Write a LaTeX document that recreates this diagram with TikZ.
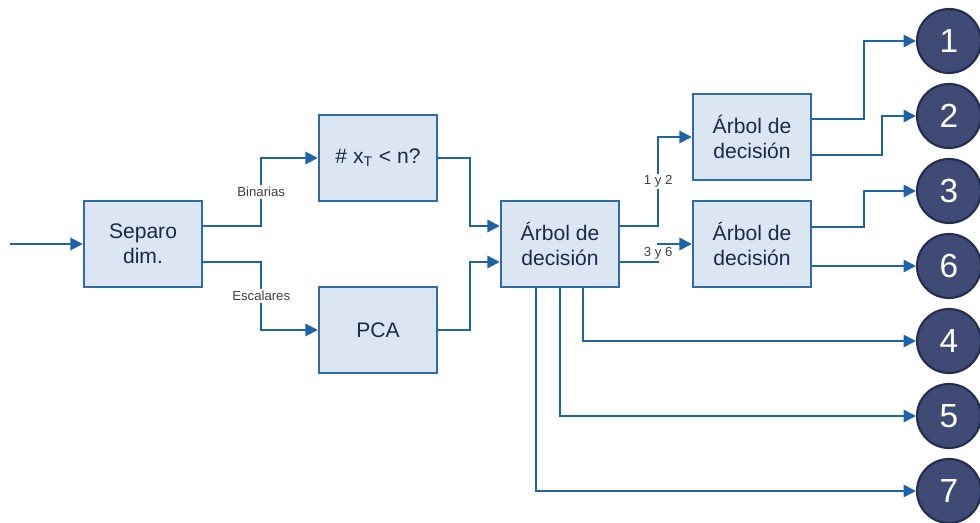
\documentclass[tikz,border=0pt]{standalone}
\usepackage{fontspec}
\setmainfont{Liberation Sans}
\usetikzlibrary{arrows.meta}

\definecolor{boxfill}{HTML}{DCE6F2}
\definecolor{boxline}{HTML}{2F6BA8}
\definecolor{wire}{HTML}{1F62A8}
\definecolor{ballfill}{HTML}{3F4B75}
\definecolor{ballline}{HTML}{232D4F}
\definecolor{ink}{HTML}{1B2A48}

\tikzset{
  block/.style={draw=boxline, line width=1.4pt, fill=boxfill, minimum width=2.36cm,
    minimum height=1.72cm, align=center, text=ink, inner sep=0pt,
    font=\fontsize{12}{14}\selectfont},
  ball/.style={circle, draw=ballline, line width=1.2pt, fill=ballfill, minimum size=1.28cm,
    inner sep=0pt, text=white, font=\fontsize{19}{19}\selectfont},
  wirearrow/.style={draw=wire, line width=1.1pt, -{Triangle[length=7pt,width=7pt]}},
  tag/.style={fill=white, inner sep=1pt, text=black!75, font=\fontsize{7.5}{8}\selectfont},
}

\begin{document}
\begin{tikzpicture}[x=0.02cm, y=-0.02cm]

  \useasboundingbox (0,0) rectangle (980,523);

  % Blocks
  \node[block] (sep) at (143,244) {Separo\\dim.};
  \node[block] (bin) at (378,158) {\# x\textsubscript{T} < n?};
  \node[block] (pca) at (378,330) {PCA};
  \node[block] (tree) at (560,244) {Árbol de\\decisión};
  \node[block] (treeA) at (752,137) {Árbol de\\decisión};
  \node[block] (treeB) at (752,244) {Árbol de\\decisión};

  % Classes
  \node[ball] (n1) at (949,41) {1};
  \node[ball] (n2) at (949,116) {2};
  \node[ball] (n3) at (949,191) {3};
  \node[ball] (n6) at (949,266) {6};
  \node[ball] (n4) at (949,341) {4};
  \node[ball] (n5) at (949,416) {5};
  \node[ball] (n7) at (949,491) {7};

  % Input
  \coordinate (in) at (10,244);
  \draw[wirearrow] (in) -- (sep.west);

  % Split of the dimensions
  \draw[wirearrow] ([yshift=0.36cm]sep.east) -- ++(58,0) |- node[tag,pos=0.25] {Binarias} (bin.west);
  \draw[wirearrow] ([yshift=-0.36cm]sep.east) -- ++(58,0) |- node[tag,pos=0.25] {Escalares} (pca.west);

  \draw[wirearrow] (bin.east) -- ++(32,0) |- ([yshift=0.36cm]tree.west);
  \draw[wirearrow] (pca.east) -- ++(32,0) |- ([yshift=-0.36cm]tree.west);

  % First tree
  \draw[wirearrow] ([yshift=0.36cm]tree.east) -- ++(38,0) |- node[tag,pos=0.25] {1 y 2} (treeA.west);
  \draw[wirearrow] ([yshift=-0.36cm]tree.east) -- ++(38,0) |- node[tag,pos=0.25] {3 y 6} (treeB.west);
  \draw[wirearrow] ([xshift=0.46cm]tree.south) |- (n4);
  \draw[wirearrow] (tree.south) |- (n5);
  \draw[wirearrow] ([xshift=-0.48cm]tree.south) |- (n7);

  % Second level trees
  \draw[wirearrow] ([yshift=0.36cm]treeA.east) -- ++(52,0) |- (n1);
  \draw[wirearrow] ([yshift=-0.36cm]treeA.east) -- ++(70,0) |- (n2);
  \draw[wirearrow] ([yshift=0.34cm]treeB.east) -- ++(52,0) |- (n3);
  \draw[wirearrow] ([yshift=-0.44cm]treeB.east) -- (n6);

\end{tikzpicture}
\end{document}
